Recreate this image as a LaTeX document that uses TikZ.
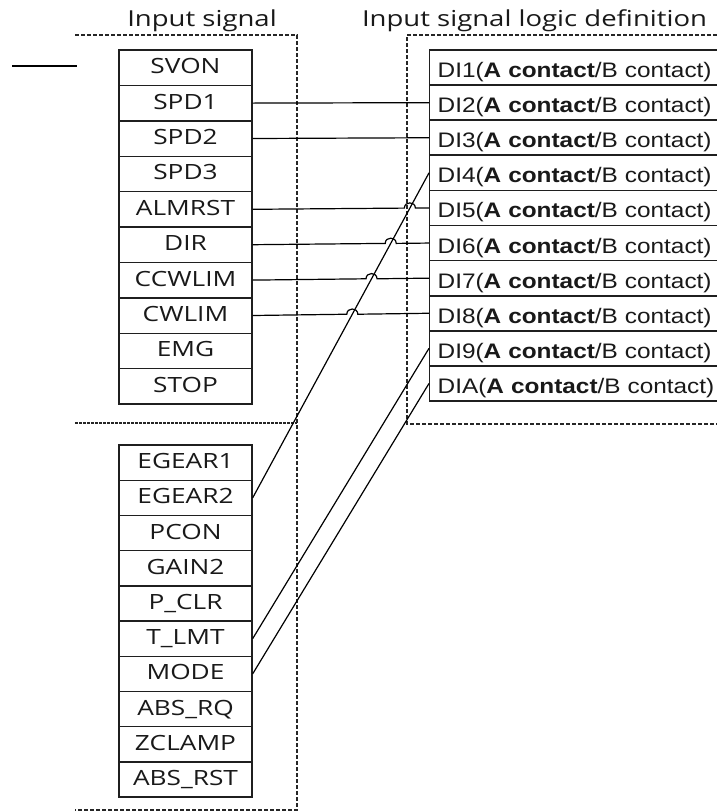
\documentclass[tikz,border=0pt]{standalone}
\usepackage{fontspec}
\newfontfamily\boxfont[FakeStretch=1.25]{Open Sans}
\newfontfamily\difont[FakeStretch=1.16]{Liberation Sans}
\usetikzlibrary{calc,intersections}
\begin{document}
\begin{tikzpicture}[x=1pt,y=-1pt,
  lbox/.style={draw=black!88,line width=1.4pt,minimum width=133pt,minimum height=35.4pt,
    inner sep=0pt,font=\boxfont\fontsize{21}{24}\selectfont,text height=15pt,text depth=3pt,text=black!90},
  mbox/.style={lbox,minimum height=35.2pt},
  rbox/.style={draw=black!88,line width=1.4pt,minimum height=35.4pt,inner xsep=8pt,inner ysep=0pt,
    text width=284pt,align=left,anchor=west,font=\difont\fontsize{21}{24}\selectfont,
    text height=20pt,text depth=0pt,text=black!90},
  hdr/.style={font=\boxfont\fontsize{22}{26}\selectfont,anchor=base,inner sep=0pt,text=black!90},
  conn/.style={draw=black,line width=1.2pt},
  dsh/.style={draw=black!85,line width=1.1pt,dash pattern=on 4pt off 2pt},
  fdsh/.style={draw=black!85,line width=1.1pt,dash pattern=on 3pt off 1pt}]
\clip (0,0) rectangle (717,812);
\fill[white] (0,0) rectangle (717,812);

% headers
\node[hdr] (h1) at (202,26) {Input signal};
\node[hdr] (h2) at (534.5,26) {Input signal logic definition};

% dashed group frames
\draw[dsh] (75,35) -- (297,35) -- (297,810) -- (75,810);
\draw[fdsh] (75,423) -- (297,423);
\draw[dsh] (717,35) -- (407,35) -- (407,424) -- (717,424);

% short line top-left
\coordinate (s1) at (12,66);
\coordinate (s2) at (77,66);
\draw[conn] (s1) -- (s2);

% left upper boxes
\foreach \t [count=\i] in {SVON,SPD1,SPD2,SPD3,ALMRST,DIR,CCWLIM,CWLIM,EMG,STOP}
  \node[lbox] (l\i) at (185.5,{50+35.4*(\i-0.5)}) {\t};
% left lower boxes
\foreach \t [count=\i] in {EGEAR1,EGEAR2,PCON,GAIN2,P\_CLR,T\_LMT,MODE,ABS\_RQ,ZCLAMP,ABS\_RST}
  \node[mbox] (m\i) at (185.5,{445+35.2*(\i-0.5)}) {\t};
% right boxes
\foreach \t [count=\i] in {1,2,3,4,5,6,7,8,9,A}
  \node[rbox] (r\i) at (429,{50+35.1*(\i-0.5)}) {DI\t(\textbf{A contact}/B contact)};

% straight connectors
\draw[conn] (l2.east) -- (r2.west);
\draw[conn] (l3.east) -- (r3.west);
\draw[conn,name path=diag] (m2.east) -- (r4.west);
\draw[conn] (m6.east) -- (r9.west);
\draw[conn] (m7.east) -- (r10.west);

% connectors hopping over the diagonal
\foreach \a in {5,6,7,8}{
  \path[name path=hline] (l\a.east) -- (r\a.west);
  \path[name intersections={of=diag and hline,by=X}];
  \draw[conn] (l\a.east) -- ($(X)+(-5.5,0)$) .. controls +(0,-7) and +(0,-7) .. ($(X)+(5.5,0)$) -- (r\a.west);
}
\end{tikzpicture}
\end{document}
